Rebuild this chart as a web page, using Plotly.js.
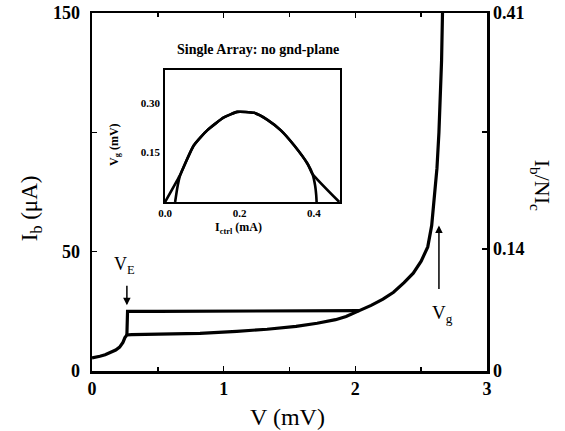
<!DOCTYPE html>
<html>
<head>
<meta charset="utf-8">
<script src="https://cdn.plot.ly/plotly-3.0.1.min.js"></script>
<style>html,body{margin:0;padding:0;background:#fff;}#chart{width:565px;height:431px;}</style>
</head>
<body>
<div id="chart"></div>
<script>
// Main I-V curve: lower (return) branch, V in mV, Ib in uA
const vLower = [0, 0.03, 0.06, 0.10, 0.14, 0.18, 0.21, 0.235, 0.25, 0.265, 0.30, 0.50, 0.82, 1.10, 1.33, 1.55, 1.71, 1.85, 1.93, 2.03, 2.12, 2.21, 2.29, 2.37, 2.44, 2.50, 2.55, 2.58, 2.60, 2.62, 2.635, 2.647, 2.655, 2.662];
const iLower = [5.5, 6.0, 6.2, 6.8, 7.7, 8.8, 10.0, 12.0, 14.0, 15.1, 15.2, 15.4, 15.8, 16.6, 17.5, 18.7, 20.0, 21.5, 22.8, 25.3, 27.5, 30.1, 33.0, 37.0, 41.0, 46.0, 52.0, 61.0, 72.0, 85.0, 100.0, 114.0, 130.0, 150.0];
// Upper (switching) branch
const vUpper = [0.265, 0.27, 0.50, 1.00, 1.50, 2.03];
const iUpper = [15.1, 25.0, 25.0, 25.0, 25.1, 25.3];

// Inset: Vg (mV) vs Ictrl (mA)
const ictrlA = [0, 0.039, 0.077, 0.113, 0.158, 0.194, 0.239, 0.275, 0.311, 0.347, 0.383, 0.396, 0.468];
const vgA    = [0, 0.079, 0.171, 0.217, 0.256, 0.273, 0.270, 0.249, 0.217, 0.171, 0.115, 0.085, 0];
const ictrlB = [0.027, 0.033, 0.040, 0.077, 0.113, 0.158, 0.194, 0.239, 0.275, 0.311, 0.347, 0.383, 0.396, 0.403, 0.406, 0.407];
const vgB    = [0, 0.044, 0.079, 0.171, 0.217, 0.256, 0.273, 0.270, 0.249, 0.217, 0.171, 0.115, 0.085, 0.050, 0.020, 0];

// Tick labels
const xTickVals = [0, 1, 2, 3];
const xTickText = ['0', '1', '2', '3'];
const yTickVals = [0, 50, 100, 150];
const yTickText = ['0', '50', '', '150'];
const y2TickVals = [0, 0.14, 0.274, 0.41];
const y2TickText = ['0', '0.14', '', '0.41'];
const inXTickVals = [0, 0.2, 0.4];
const inXTickText = ['0.0', '0.2', '0.4'];
const inYTickVals = [0.15, 0.30];
const inYTickText = ['0.15', '0.30'];

const serif = 'Liberation Serif, Times New Roman, serif';
const tickFont = {family: serif, size: 18, color: '#000', weight: 'bold'};
const inFont = {family: serif, size: 11, color: '#000', weight: 'bold'};

const lineStyle = {color: '#000', width: 3.2};
const inLine = {color: '#000', width: 2.6};

const traces = [
  {x: vLower, y: iLower, mode: 'lines', line: lineStyle, hoverinfo: 'skip'},
  {x: vUpper, y: iUpper, mode: 'lines', line: lineStyle, hoverinfo: 'skip'},
  {x: [], y: [], yaxis: 'y2', mode: 'lines', hoverinfo: 'skip'},
  {x: ictrlA, y: vgA, xaxis: 'x2', yaxis: 'y3', mode: 'lines', line: Object.assign({shape: 'spline', smoothing: 0.5}, inLine), hoverinfo: 'skip'},
  {x: ictrlB, y: vgB, xaxis: 'x2', yaxis: 'y3', mode: 'lines', line: Object.assign({shape: 'spline', smoothing: 0.5}, inLine), hoverinfo: 'skip'}
];

const layout = {
  width: 565, height: 431,
  margin: {l: 92, r: 78, t: 13, b: 60},
  showlegend: false,
  paper_bgcolor: '#fff', plot_bgcolor: '#fff',
  font: {family: serif, color: '#000'},
  xaxis: {
    range: [0, 3], domain: [0, 1], showline: true, linewidth: 2.5, linecolor: '#000', mirror: 'ticks',
    showgrid: false, zeroline: false, tickmode: 'array', tickvals: xTickVals, ticktext: xTickText,
    ticks: 'inside', ticklen: 5, tickwidth: 1.5, tickcolor: '#000', tickfont: tickFont,
    minor: {dtick: 0.5, ticks: 'inside', ticklen: 4, tickwidth: 1.5, tickcolor: '#000'}
  },
  yaxis: {
    range: [0, 150], domain: [0, 1], showline: true, linewidth: 2.5, linecolor: '#000', mirror: true,
    showgrid: false, zeroline: false, tickmode: 'array', tickvals: yTickVals, ticktext: yTickText,
    ticks: 'inside', ticklen: 5, tickwidth: 1.5, tickcolor: '#000', tickfont: tickFont, ticklabelstandoff: 6
  },
  yaxis2: {
    overlaying: 'y', side: 'right', range: [0, 0.41], showline: true, linewidth: 2.5, linecolor: '#000',
    showgrid: false, zeroline: false, tickmode: 'array', tickvals: y2TickVals, ticktext: y2TickText,
    ticks: 'inside', ticklen: 5, tickwidth: 1.5, tickcolor: '#000', tickfont: tickFont
  },
  xaxis2: {
    domain: [0.185, 0.628], anchor: 'y3', range: [0, 0.47], showline: true, linewidth: 1.8, linecolor: '#000', mirror: true,
    showgrid: false, zeroline: false, tickmode: 'array', tickvals: inXTickVals, ticktext: inXTickText,
    ticks: '', tickfont: inFont
  },
  yaxis3: {
    domain: [0.472, 0.841], anchor: 'x2', range: [0, 0.40], showline: true, linewidth: 1.8, linecolor: '#000', mirror: true,
    showgrid: false, zeroline: false, tickmode: 'array', tickvals: inYTickVals, ticktext: inYTickText,
    ticks: '', tickfont: inFont, ticklabelstandoff: 1
  },
  annotations: [
    {xref: 'paper', yref: 'paper', x: 0.495, y: -0.128, text: 'V (mV)', showarrow: false,
     font: {family: serif, size: 24, color: '#000'}, xanchor: 'center', yanchor: 'middle'},
    {xref: 'paper', yref: 'paper', x: -0.154, y: 0.455, text: 'I<sub>b</sub> (μA)', showarrow: false, textangle: -90,
     font: {family: serif, size: 23, color: '#000'}, xanchor: 'center', yanchor: 'middle'},
    {xref: 'paper', yref: 'paper', x: 1.137, y: 0.52, text: 'I<sub>b</sub>/NI<sub>c</sub>', showarrow: false, textangle: 90,
     font: {family: serif, size: 22, color: '#000'}, xanchor: 'center', yanchor: 'middle'},
    // V_E marker
    {xref: 'x', yref: 'y', x: 0.25, y: 44, text: 'V<sub>E</sub>', showarrow: false,
     font: {family: serif, size: 18, color: '#000'}, xanchor: 'center', yanchor: 'middle'},
    {xref: 'x', yref: 'y', x: 0.265, y: 27.5, ax: 0, ay: -21, text: '', showarrow: true,
     arrowhead: 2, arrowsize: 1, arrowwidth: 1.5, arrowcolor: '#000'},
    // V_g marker
    {xref: 'x', yref: 'y', x: 2.635, y: 61, ax: 0, ay: 65, text: '', showarrow: true,
     arrowhead: 2, arrowsize: 1, arrowwidth: 1.5, arrowcolor: '#000'},
    {xref: 'x', yref: 'y', x: 2.66, y: 24, text: 'V<sub>g</sub>', showarrow: false,
     font: {family: serif, size: 19, color: '#000'}, xanchor: 'center', yanchor: 'middle'},
    // Inset texts
    {xref: 'paper', yref: 'paper', x: 0.421, y: 0.897, text: 'Single Array: no gnd-plane', showarrow: false,
     font: {family: serif, size: 14, color: '#000', weight: 'bold'}, xanchor: 'center', yanchor: 'middle'},
    {xref: 'paper', yref: 'paper', x: 0.37, y: 0.399, text: 'I<sub>ctrl</sub> (mA)', showarrow: false,
     font: {family: serif, size: 12, color: '#000', weight: 'bold'}, xanchor: 'center', yanchor: 'middle'},
    {xref: 'paper', yref: 'paper', x: 0.058, y: 0.634, text: 'V<sub>g</sub> (mV)', showarrow: false, textangle: -90,
     font: {family: serif, size: 12, color: '#000', weight: 'bold'}, xanchor: 'center', yanchor: 'middle'}
  ]
};

Plotly.newPlot('chart', traces, layout, {staticPlot: true, displayModeBar: false});
</script>
</body>
</html>
